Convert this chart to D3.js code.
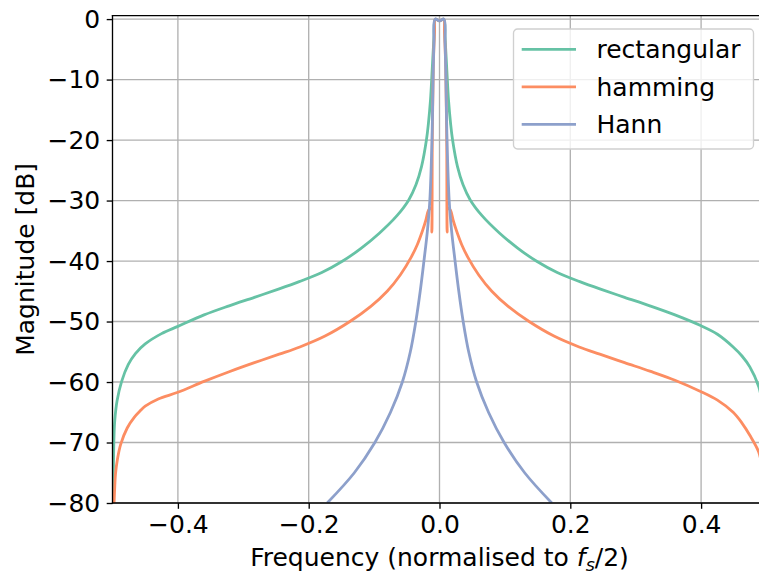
<!DOCTYPE html>
<html>
<head>
<meta charset="utf-8">
<script src="https://cdn.jsdelivr.net/npm/d3@7"></script>
<style>
  html, body { margin: 0; padding: 0; background: #fff; }
  #chart { width: 759px; height: 576px; overflow: hidden; }
  text { font-family: "DejaVu Sans", sans-serif; fill: #000; }
</style>
</head>
<body>
<div id="chart"></div>
<script>
(function () {
    'use strict';

    // --- 1. DATA ([frequency, dB]) ---
    const seriesNames = ["rectangular", "hamming", "Hann"];
    const seriesColors = ["#66c2a5", "#fc8d62", "#8da0cb"];

    const rectangular = [
        [-0.4992, -80], [-0.4985, -73.5], [-0.4977, -69], [-0.4965, -66.3], [-0.493, -63.1],
        [-0.486, -59.9], [-0.4758, -57.1], [-0.465, -55.3], [-0.45, -53.7], [-0.425, -52.0],
        [-0.4, -50.8], [-0.36, -48.9], [-0.3216, -47.4], [-0.283, -46.0], [-0.2451, -44.6],
        [-0.2145, -43.4], [-0.18, -41.9], [-0.148, -40], [-0.12, -37.9], [-0.092, -35.4],
        [-0.065, -32.5], [-0.047, -29.9], [-0.036, -27.4], [-0.0275, -24.4], [-0.02, -20],
        [-0.017, -17.3], [-0.0138, -13.4], [-0.011, -8], [-0.0085, -3], [-0.0064, 0],
        [0, -0.3],
        [0.0064, 0], [0.0085, -3], [0.011, -8], [0.0138, -13.4], [0.017, -17.3],
        [0.02, -20], [0.0275, -24.4], [0.036, -27.4], [0.047, -29.9], [0.065, -32.5],
        [0.092, -35.4], [0.12, -37.9], [0.148, -40], [0.18, -41.9], [0.2145, -43.4],
        [0.2451, -44.6], [0.283, -46.0], [0.3216, -47.4], [0.36, -48.9], [0.4, -50.7],
        [0.425, -52.1], [0.449, -54.2], [0.4625, -55.7], [0.4745, -57.5], [0.4882, -60.8],
        [0.493, -63.2], [0.4965, -66.5], [0.4985, -70], [0.4993, -80]
    ];

    const hamming = [
        [-0.4976, -80], [-0.4965, -77.2], [-0.4954, -75.2], [-0.4925, -72.8], [-0.4875, -70.3],
        [-0.4775, -67.6], [-0.4665, -65.8], [-0.458, -64.8], [-0.45, -64.0], [-0.43, -62.8],
        [-0.4, -61.7], [-0.36, -59.9], [-0.3216, -58.3], [-0.283, -56.8], [-0.2451, -55.4],
        [-0.2135, -54.2], [-0.175, -52.4], [-0.137, -50], [-0.105, -47.5], [-0.08, -45],
        [-0.06, -42.3], [-0.043, -39.3], [-0.034, -37.3], [-0.026, -35], [-0.021, -33.3],
        [-0.0168, -31.6], [-0.013, -31.2], [-0.0117, -35.2], [-0.011, -20], [-0.0095, -8],
        [-0.0075, -2], [-0.0064, 0], [0, -0.3], [0.0064, 0], [0.0075, -2],
        [0.0095, -8], [0.011, -20], [0.0117, -35.2], [0.013, -31.2], [0.0168, -31.6],
        [0.021, -33.3], [0.026, -35], [0.034, -37.3], [0.043, -39.3], [0.06, -42.3],
        [0.08, -45], [0.105, -47.5], [0.137, -50], [0.175, -52.4], [0.2135, -54.2],
        [0.2451, -55.4], [0.283, -56.8], [0.3216, -58.2], [0.36, -59.7], [0.4, -61.6],
        [0.425, -63.0], [0.449, -65.0], [0.462, -66.7], [0.4745, -68.8], [0.4882, -71.6],
        [0.4935, -74.3], [0.4962, -77], [0.4977, -80]
    ];

    const hann = [
        [-0.1717, -80], [-0.1302, -75], [-0.0988, -70], [-0.0749, -65], [-0.0568, -60],
        [-0.0446, -55], [-0.0362, -50], [-0.0295, -45], [-0.0238, -40], [-0.0185, -35],
        [-0.0148, -30], [-0.0115, -20], [-0.0098, -10], [-0.0085, -4], [-0.0067, 0],
        [0, -0.3],
        [0.0067, 0], [0.0085, -4], [0.0098, -10], [0.0115, -20], [0.0148, -30],
        [0.0185, -35], [0.0238, -40], [0.0295, -45], [0.0362, -50], [0.0446, -55],
        [0.0568, -60], [0.0749, -65], [0.0988, -70], [0.1302, -75], [0.1717, -80]
    ];

    const xTicks = [-0.4, -0.2, 0.0, 0.2, 0.4];
    const yTicks = [0, -10, -20, -30, -40, -50, -60, -70, -80];
    const xDomain = [-0.5, 0.5];
    const yDomain = [-80, 0.56];

    // --- 2. LAYOUT ---
    const W = 759, H = 576;
    const plot = { left: 112.5, right: 766.5, top: 15.7, bottom: 503 };
    const fontSize = 25;
    const thin = 1.33;      // spines, ticks, grid
    const lineW = 2.8;      // data lines

    const svg = d3.select("#chart").append("svg")
        .attr("width", W).attr("height", H)
        .attr("viewBox", `0 0 ${W} ${H}`);

    // --- 3. SCALES ---
    const x = d3.scaleLinear().domain(xDomain).range([plot.left, plot.right]);
    const y = d3.scaleLinear().domain(yDomain).range([plot.bottom, plot.top]);

    const fmtMinus = s => s.replace("-", "\u2212");

    // clip for the lines
    svg.append("defs").append("clipPath").attr("id", "plot-clip")
        .append("rect")
        .attr("x", plot.left).attr("y", plot.top)
        .attr("width", plot.right - plot.left).attr("height", plot.bottom - plot.top);

    // --- 4. GRID ---
    svg.append("g").selectAll("line").data(xTicks).enter().append("line")
        .attr("x1", d => x(d)).attr("x2", d => x(d))
        .attr("y1", plot.top).attr("y2", plot.bottom)
        .attr("stroke", "#b0b0b0").attr("stroke-width", thin);
    svg.append("g").selectAll("line").data(yTicks).enter().append("line")
        .attr("x1", plot.left).attr("x2", plot.right)
        .attr("y1", d => y(d)).attr("y2", d => y(d))
        .attr("stroke", "#b0b0b0").attr("stroke-width", thin);

    // --- 5. LINES ---
    const line = d3.line()
        .x(d => x(d[0]))
        .y(d => y(d[1]))
        .curve(d3.curveCatmullRom.alpha(0.5));

    const allSeries = [rectangular, hamming, hann];
    svg.append("g").attr("clip-path", "url(#plot-clip)")
        .selectAll("path").data(allSeries).enter().append("path")
        .attr("d", d => line(d))
        .attr("fill", "none")
        .attr("stroke", (d, i) => seriesColors[i])
        .attr("stroke-width", lineW)
        .attr("stroke-linejoin", "round");

    // --- 6. AXES ---
    const xAxis = d3.axisBottom(x).tickValues(xTicks)
        .tickSize(5.8).tickPadding(6)
        .tickFormat(d => fmtMinus(d3.format(".1f")(d)));
    const gx = svg.append("g").attr("transform", `translate(0,${plot.bottom})`).call(xAxis);

    const yAxis = d3.axisLeft(y).tickValues(yTicks)
        .tickSize(5.8).tickPadding(6.5)
        .tickFormat(d => fmtMinus(String(d)));
    const gy = svg.append("g").attr("transform", `translate(${plot.left},0)`).call(yAxis);

    [gx, gy].forEach(g => {
        g.select(".domain").remove();
        g.selectAll(".tick line").attr("stroke", "#000").attr("stroke-width", thin);
        g.selectAll(".tick text").attr("font-size", fontSize)
            .attr("font-family", "DejaVu Sans, sans-serif").attr("fill", "#000");
    });

    // spines: left, bottom, top (right spine lies outside the picture)
    const spine = (x1, y1, x2, y2) => svg.append("line")
        .attr("x1", x1).attr("y1", y1).attr("x2", x2).attr("y2", y2)
        .attr("stroke", "#000").attr("stroke-width", thin).attr("stroke-linecap", "square");
    spine(plot.left, plot.top, plot.left, plot.bottom);
    spine(plot.left, plot.bottom, plot.right, plot.bottom);
    spine(plot.left, plot.top, plot.right, plot.top);

    // axis labels
    const xl = svg.append("text")
        .attr("x", x(0)).attr("y", 566)
        .attr("text-anchor", "middle").attr("font-size", fontSize);
    xl.append("tspan").text("Frequency (normalised to ");
    xl.append("tspan").attr("font-style", "italic").text("f");
    xl.append("tspan").attr("font-style", "italic").attr("font-size", fontSize * 0.7)
        .attr("dy", 5).text("s");
    xl.append("tspan").attr("dy", -5).text("/2)");

    svg.append("text")
        .attr("transform", `translate(34,${(plot.top + plot.bottom) / 2}) rotate(-90)`)
        .attr("text-anchor", "middle").attr("font-size", fontSize)
        .text("Magnitude [dB]");

    // --- 7. LEGEND ---
    const legend = svg.append("g").attr("transform", "translate(513.5,29)");
    legend.append("rect")
        .attr("width", 240).attr("height", 120).attr("rx", 4)
        .attr("fill", "rgba(255,255,255,0.8)")
        .attr("stroke", "#d0d0d0").attr("stroke-width", thin);
    const items = legend.selectAll(".item").data(seriesNames).enter().append("g")
        .attr("transform", (d, i) => `translate(0,${20.3 + i * 37.5})`);
    items.append("line")
        .attr("x1", 8.2).attr("x2", 62.5)
        .attr("stroke", (d, i) => seriesColors[i]).attr("stroke-width", lineW);
    items.append("text")
        .attr("x", 83).attr("dy", "0.35em")
        .attr("font-size", fontSize)
        .text(d => d);
})();
</script>
</body>
</html>
